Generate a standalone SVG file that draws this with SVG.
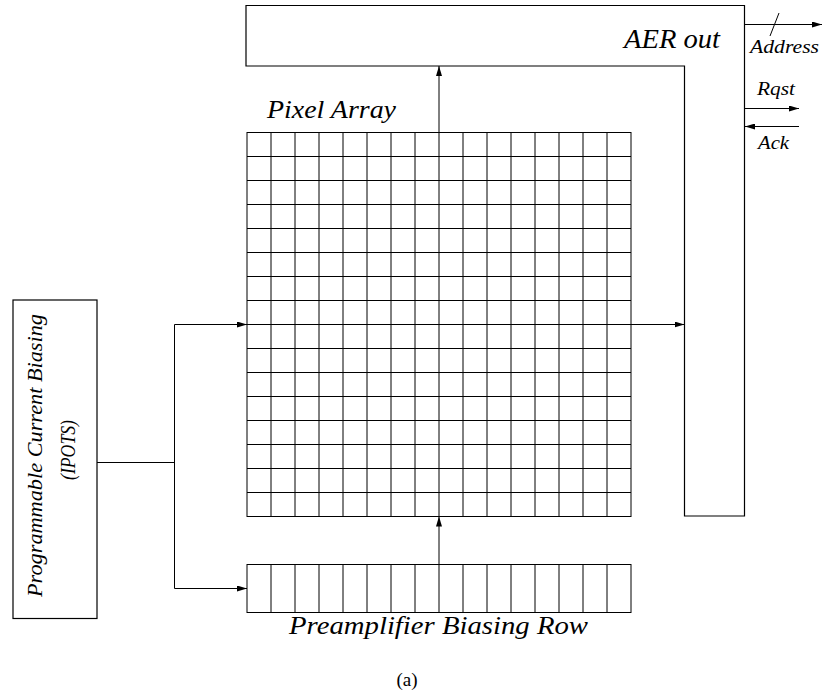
<svg xmlns="http://www.w3.org/2000/svg" width="824" height="697" viewBox="0 0 824 697">
<style>
.box{fill:#fff;stroke:#000;stroke-width:1.2}
.grid{fill:none;stroke:#000;stroke-width:1}
.ln{fill:none;stroke:#000;stroke-width:1}
.it{font-family:'Liberation Serif','Times New Roman',serif;font-style:italic;fill:#000}
.rm{font-family:'Liberation Serif','Times New Roman',serif;fill:#000}
</style>
<defs>
<marker id="ah" markerUnits="userSpaceOnUse" markerWidth="10" markerHeight="6" refX="10" refY="3" orient="auto">
<path d="M0,0 L10,3 L0,6 z" fill="#000"/>
</marker>
</defs>
<rect width="824" height="697" fill="#fff"/>

<g id="aer">
<path class="box" d="M246,5.5 H744.5 V516 H684.5 V66 H246 Z"/>
<text class="it" x="624" y="48" font-size="27" textLength="96" lengthAdjust="spacingAndGlyphs">AER out</text>
</g>

<g id="pixel-array">
<rect class="grid" x="247" y="132.5" width="384" height="384"/>
<path class="grid" d="M271,132.5V516.5M295,132.5V516.5M319,132.5V516.5M343,132.5V516.5M367,132.5V516.5M391,132.5V516.5M415,132.5V516.5M439,132.5V516.5M463,132.5V516.5M487,132.5V516.5M511,132.5V516.5M535,132.5V516.5M559,132.5V516.5M583,132.5V516.5M607,132.5V516.5
M247,156.5H631M247,180.5H631M247,204.5H631M247,228.5H631M247,252.5H631M247,276.5H631M247,300.5H631M247,324.5H631M247,348.5H631M247,372.5H631M247,396.5H631M247,420.5H631M247,444.5H631M247,468.5H631M247,492.5H631"/>
<text class="it" x="267" y="118" font-size="25" textLength="129" lengthAdjust="spacingAndGlyphs">Pixel Array</text>
</g>

<g id="preamp-row">
<rect class="grid" x="247" y="564.5" width="384" height="48"/>
<path class="grid" d="M271,564.5V612.5M295,564.5V612.5M319,564.5V612.5M343,564.5V612.5M367,564.5V612.5M391,564.5V612.5M415,564.5V612.5M439,564.5V612.5M463,564.5V612.5M487,564.5V612.5M511,564.5V612.5M535,564.5V612.5M559,564.5V612.5M583,564.5V612.5M607,564.5V612.5"/>
<text class="it" x="289" y="634" font-size="26" textLength="299" lengthAdjust="spacingAndGlyphs">Preamplifier Biasing Row</text>
</g>

<g id="ipots">
<rect class="box" x="13" y="300" width="84" height="318.5"/>
<text class="it" font-size="21" transform="translate(42,597) rotate(-90)" textLength="283" lengthAdjust="spacingAndGlyphs">Programmable Current  Biasing</text>
<text class="it" font-size="20" transform="translate(75,480) rotate(-90)" textLength="60" lengthAdjust="spacingAndGlyphs">(IPOTS)</text>
</g>

<g id="connectors">
<line class="ln" x1="439" y1="132" x2="439" y2="66" marker-end="url(#ah)"/>
<line class="ln" x1="439" y1="564" x2="439" y2="516.5" marker-end="url(#ah)"/>
<line class="ln" x1="631" y1="324.5" x2="684.5" y2="324.5" marker-end="url(#ah)"/>
<line class="ln" x1="97" y1="462.5" x2="174.5" y2="462.5"/>
<line class="ln" x1="174.5" y1="324.5" x2="174.5" y2="588.5"/>
<line class="ln" x1="174.5" y1="324.5" x2="247" y2="324.5" marker-end="url(#ah)"/>
<line class="ln" x1="174.5" y1="588.5" x2="247" y2="588.5" marker-end="url(#ah)"/>
<line class="ln" x1="744.5" y1="24.5" x2="822" y2="24.5" marker-end="url(#ah)"/>
<line class="ln" x1="770" y1="36" x2="779" y2="13"/>
<line class="ln" x1="744.5" y1="108.5" x2="799" y2="108.5" marker-end="url(#ah)"/>
<line class="ln" x1="799" y1="126.5" x2="745" y2="126.5" marker-end="url(#ah)"/>
</g>

<g id="signals">
<text class="it" x="750" y="53" font-size="18" textLength="69" lengthAdjust="spacingAndGlyphs">Address</text>
<text class="it" x="757" y="95" font-size="18" textLength="38" lengthAdjust="spacingAndGlyphs">Rqst</text>
<text class="it" x="758" y="149" font-size="18" textLength="31" lengthAdjust="spacingAndGlyphs">Ack</text>
</g>

<text class="rm" x="407" y="686" font-size="19" text-anchor="middle">(a)</text>
</svg>
